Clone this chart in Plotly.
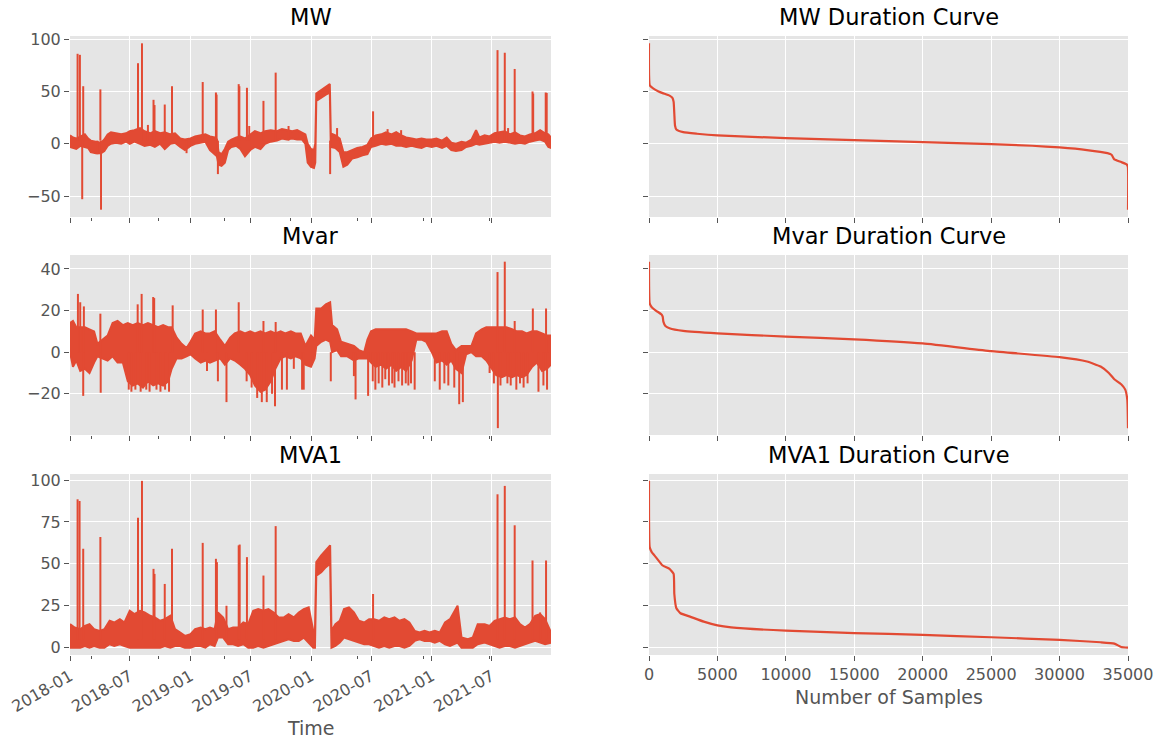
import plotly.graph_objects as go

# ---------------------------------------------------------------------------
# Time series envelopes: (timestamp, upper value, lower value)
# ---------------------------------------------------------------------------
mw_band = [
    ("2018-01-01", 8, -3), ("2018-01-10", 6, -4), ("2018-01-20", 5, -5),
    ("2018-02-01", 7, -2), ("2018-02-15", 9, -3), ("2018-02-25", 5, -4),
    ("2018-03-05", 3, -8), ("2018-03-20", 2, -9), ("2018-04-05", 1, -9),
    ("2018-04-15", 4, -7), ("2018-04-25", 9, -2), ("2018-05-05", 11, 0),
    ("2018-05-20", 10, 1), ("2018-06-05", 9, 0), ("2018-06-20", 10, 2),
    ("2018-07-01", 12, 0), ("2018-07-15", 13, 2), ("2018-08-01", 15, 0),
    ("2018-08-15", 12, -2), ("2018-09-01", 10, -1), ("2018-09-15", 12, -3),
    ("2018-10-01", 10, 0), ("2018-10-15", 11, -5), ("2018-11-01", 9, 0),
    ("2018-11-15", 10, 1), ("2018-12-01", 5, -3), ("2018-12-15", 4, -6),
    ("2019-01-01", 5, -2), ("2019-01-15", 7, 0), ("2019-02-01", 8, 1),
    ("2019-02-15", 9, 2), ("2019-03-01", 7, -6), ("2019-03-15", 6, -10),
    ("2019-03-22", 4, -12), ("2019-03-27", -8, -20), ("2019-04-05", -10, -21),
    ("2019-04-15", -5, -18), ("2019-04-25", 2, -6), ("2019-05-05", 4, -3),
    ("2019-05-20", 6, -2), ("2019-06-01", 7, -5), ("2019-06-15", 5, -12),
    ("2019-07-01", 9, -6), ("2019-07-15", 12, -3), ("2019-08-01", 10, -5),
    ("2019-08-15", 12, 0), ("2019-09-01", 13, 2), ("2019-09-20", 12, 3),
    ("2019-10-05", 14, 5), ("2019-10-20", 13, 4), ("2019-11-05", 12, 5),
    ("2019-11-20", 13, 4), ("2019-12-05", 11, 4), ("2019-12-15", 9, 0),
    ("2019-12-22", 0, -18), ("2020-01-01", -5, -22), ("2020-01-10", -6, -23),
    ("2020-01-14", 0, -18), ("2020-01-17", 48, 41), ("2020-02-01", 51, 44),
    ("2020-02-15", 54, 47), ("2020-02-27", 57, 49), ("2020-03-01", 10, -3),
    ("2020-03-15", 8, -4), ("2020-03-28", 5, -8), ("2020-04-08", -8, -22),
    ("2020-04-20", -8, -20), ("2020-05-05", -6, -14), ("2020-05-20", -4, -13),
    ("2020-06-05", -3, -11), ("2020-06-20", -1, -10), ("2020-07-01", 5, -3),
    ("2020-07-15", 8, -2), ("2020-08-01", 9, 0), ("2020-08-15", 11, -1),
    ("2020-09-01", 9, 0), ("2020-09-15", 11, -2), ("2020-10-01", 8, -2),
    ("2020-10-15", 6, -3), ("2020-11-01", 5, -2), ("2020-11-15", 4, -3),
    ("2020-12-01", 5, -4), ("2020-12-15", 4, -2), ("2021-01-01", 4, -3),
    ("2021-01-15", 5, -2), ("2021-02-01", 3, -4), ("2021-02-15", 6, -2),
    ("2021-03-01", 1, -6), ("2021-03-15", 0, -7), ("2021-04-01", 2, -6),
    ("2021-04-15", 1, -3), ("2021-05-01", 4, -2), ("2021-05-15", 13, 0),
    ("2021-05-25", 6, -1), ("2021-06-10", 8, 0), ("2021-06-25", 7, 1),
    ("2021-07-10", 10, 2), ("2021-07-25", 11, 1), ("2021-08-10", 12, 2),
    ("2021-08-25", 9, 1), ("2021-09-10", 11, 0), ("2021-09-25", 8, 1),
    ("2021-10-10", 7, 0), ("2021-10-25", 9, 2), ("2021-11-10", 10, 3),
    ("2021-11-25", 13, 4), ("2021-12-10", 10, 2), ("2021-12-20", 9, -3),
    ("2021-12-28", 6, -4),
]

mvar_band = [
    ("2018-01-01", 14, 0), ("2018-01-10", 15, -7), ("2018-01-20", 12, -4),
    ("2018-02-01", 12, -9), ("2018-02-15", 12, -8), ("2018-03-01", 11, -10),
    ("2018-03-15", 10, -5), ("2018-03-25", 4, -2), ("2018-04-10", 6, -3),
    ("2018-04-25", 8, -4), ("2018-05-10", 14, -2), ("2018-05-25", 15, -5),
    ("2018-06-10", 13, -5), ("2018-06-25", 14, -14), ("2018-07-10", 13, -16),
    ("2018-07-25", 14, -15), ("2018-08-10", 13, -17), ("2018-08-25", 14, -14),
    ("2018-09-10", 13, -16), ("2018-09-25", 12, -15), ("2018-10-10", 13, -16),
    ("2018-10-25", 12, -14), ("2018-11-05", 12, -8), ("2018-11-20", 7, -3),
    ("2018-12-05", 4, -3), ("2018-12-20", 2, -2), ("2019-01-01", 5, -1),
    ("2019-01-15", 9, -3), ("2019-02-01", 10, -5), ("2019-02-15", 9, -4),
    ("2019-03-01", 9, -5), ("2019-03-15", 10, -4), ("2019-04-01", 6, -3),
    ("2019-04-15", 3, -6), ("2019-05-01", 7, -3), ("2019-05-15", 9, -4),
    ("2019-06-01", 10, -6), ("2019-06-15", 9, -8), ("2019-07-01", 10, -11),
    ("2019-07-15", 9, -16), ("2019-08-01", 10, -19), ("2019-08-15", 9, -18),
    ("2019-09-01", 10, -14), ("2019-09-15", 9, -8), ("2019-10-01", 10, -3),
    ("2019-10-15", 9, -2), ("2019-11-01", 10, -3), ("2019-11-15", 9, -2),
    ("2019-12-01", 9, -3), ("2019-12-15", 3, -6), ("2020-01-01", 8, -7),
    ("2020-01-12", 6, -3), ("2020-01-17", 21, 3), ("2020-02-01", 21, 5),
    ("2020-02-15", 23, 6), ("2020-02-28", 24, 5), ("2020-03-05", 13, 0),
    ("2020-03-20", 11, 1), ("2020-04-01", 5, -2), ("2020-04-20", 4, -2),
    ("2020-05-10", 3, -4), ("2020-05-25", 1, -3), ("2020-06-10", 0, -3),
    ("2020-06-20", 6, -3), ("2020-07-01", 10, -5), ("2020-07-15", 11, -7),
    ("2020-08-01", 11, -6), ("2020-08-15", 11, -8), ("2020-09-01", 11, -6),
    ("2020-09-15", 11, -9), ("2020-10-01", 11, -7), ("2020-10-15", 11, -9),
    ("2020-11-01", 10, -4), ("2020-11-15", 9, 6), ("2020-12-01", 9, 6),
    ("2020-12-15", 9, 5), ("2021-01-01", 9, 0), ("2021-01-15", 9, -5),
    ("2021-02-01", 10, -4), ("2021-02-15", 10, -6), ("2021-03-01", 4, -4),
    ("2021-03-15", 1, -8), ("2021-04-01", 3, -10), ("2021-04-15", 3, -1),
    ("2021-05-01", 3, 0), ("2021-05-15", 9, -2), ("2021-06-01", 11, -2),
    ("2021-06-15", 12, -4), ("2021-07-01", 12, -8), ("2021-07-15", 12, -11),
    ("2021-08-01", 12, -12), ("2021-08-15", 12, -11), ("2021-09-01", 11, -12),
    ("2021-09-15", 10, -11), ("2021-10-01", 10, -12), ("2021-10-15", 9, -11),
    ("2021-11-01", 10, -7), ("2021-11-15", 10, -5), ("2021-12-01", 9, -9),
    ("2021-12-15", 8, -8), ("2021-12-28", 8, -6),
]

mva1_band = [
    ("2018-01-01", 14, 0), ("2018-01-15", 12, 0), ("2018-02-01", 11, 0),
    ("2018-02-15", 13, 1), ("2018-03-01", 14, 0), ("2018-03-15", 11, 1),
    ("2018-04-01", 10, 0), ("2018-04-15", 11, 0), ("2018-05-01", 16, 2),
    ("2018-05-15", 15, 1), ("2018-06-01", 17, 2), ("2018-06-15", 15, 1),
    ("2018-07-01", 22, 0), ("2018-07-15", 20, 0), ("2018-08-01", 22, 0),
    ("2018-08-15", 21, 0), ("2018-09-01", 19, 0), ("2018-09-15", 18, 0),
    ("2018-10-01", 16, 0), ("2018-10-15", 17, 1), ("2018-11-01", 19, 0),
    ("2018-11-15", 11, 1), ("2018-12-01", 9, 1), ("2018-12-15", 7, 0),
    ("2019-01-01", 8, 0), ("2019-01-15", 11, 1), ("2019-02-01", 12, 1),
    ("2019-02-15", 11, 0), ("2019-03-01", 12, 2), ("2019-03-15", 11, 1),
    ("2019-03-25", 21, 6), ("2019-04-10", 18, 6), ("2019-04-25", 11, 2),
    ("2019-05-10", 12, 2), ("2019-05-25", 12, 1), ("2019-06-10", 15, 2),
    ("2019-06-25", 14, 0), ("2019-07-10", 22, 0), ("2019-07-25", 23, 1),
    ("2019-08-10", 22, 0), ("2019-08-25", 23, 1), ("2019-09-10", 21, 2),
    ("2019-09-25", 18, 3), ("2019-10-10", 18, 4), ("2019-10-25", 20, 5),
    ("2019-11-10", 18, 4), ("2019-11-25", 21, 4), ("2019-12-10", 23, 6),
    ("2019-12-25", 24, 3), ("2020-01-08", 10, 0), ("2020-01-13", 10, 0),
    ("2020-01-17", 51, 43), ("2020-02-01", 55, 45), ("2020-02-15", 58, 48),
    ("2020-02-28", 61, 50), ("2020-03-03", 10, 0), ("2020-03-15", 14, 1),
    ("2020-03-28", 16, 3), ("2020-04-10", 23, 6), ("2020-04-25", 24, 5),
    ("2020-05-10", 21, 4), ("2020-05-25", 16, 3), ("2020-06-10", 15, 2),
    ("2020-06-25", 17, 2), ("2020-07-10", 17, 1), ("2020-07-25", 16, 0),
    ("2020-08-10", 18, 1), ("2020-08-25", 17, 0), ("2020-09-10", 18, 1),
    ("2020-09-25", 16, 1), ("2020-10-10", 17, 0), ("2020-10-25", 15, 1),
    ("2020-11-10", 10, 4), ("2020-11-25", 9, 5), ("2020-12-10", 10, 4),
    ("2020-12-25", 9, 4), ("2021-01-10", 10, 3), ("2021-01-25", 9, 4),
    ("2021-02-10", 15, 2), ("2021-02-25", 17, 1), ("2021-03-10", 22, 2),
    ("2021-03-20", 25, 3), ("2021-04-01", 6, 0), ("2021-04-20", 5, 0),
    ("2021-05-05", 6, 0), ("2021-05-20", 14, 2), ("2021-06-10", 14, 3),
    ("2021-06-25", 13, 2), ("2021-07-10", 16, 1), ("2021-07-25", 17, 0),
    ("2021-08-10", 18, 1), ("2021-08-25", 17, 1), ("2021-09-10", 18, 0),
    ("2021-09-25", 14, 1), ("2021-10-10", 12, 2), ("2021-10-25", 14, 3),
    ("2021-11-10", 19, 4), ("2021-11-25", 20, 3), ("2021-12-10", 17, 2),
    ("2021-12-28", 9, 3),
]

# Short excursions: (timestamp, extreme value)
mw_spikes = [
    ("2018-01-24", 86), ("2018-01-31", 85), ("2018-02-07", -53), ("2018-02-10", 55),
    ("2018-03-25", -10), ("2018-04-03", 52), ("2018-04-05", -63), ("2018-07-26", 77),
    ("2018-08-07", 96), ("2018-08-25", 18), ("2018-09-11", 42), ("2018-09-14", 37),
    ("2018-10-15", 37.5), ("2018-11-06", 55), ("2018-12-20", -9), ("2019-02-07", 59),
    ("2019-03-19", 49), ("2019-03-21", 47), ("2019-03-25", -29), ("2019-05-27", 57),
    ("2019-05-29", 55), ("2019-06-21", 53.5), ("2019-06-28", 17), ("2019-08-10", 41),
    ("2019-09-16", 68), ("2019-10-25", 17), ("2020-02-28", -29), ("2020-03-20", 15),
    ("2020-07-07", 31), ("2020-08-20", 14), ("2020-09-30", 13), ("2021-07-19", 89.5),
    ("2021-08-10", 87), ("2021-08-20", 15), ("2021-09-09", 71.5), ("2021-11-02", 50),
    ("2021-11-04", 48), ("2021-12-12", 49), ("2021-12-15", 48.5),
]

mvar_spikes = [
    ("2018-01-25", 28), ("2018-02-01", 24), ("2018-02-10", -21), ("2018-02-12", 22),
    ("2018-04-03", 18.5), ("2018-04-04", -19.5), ("2018-06-28", -18), ("2018-07-06", -19),
    ("2018-07-18", -18), ("2018-07-25", 23), ("2018-08-03", -19), ("2018-08-06", 28),
    ("2018-08-20", -18), ("2018-08-30", -19), ("2018-09-10", 26.5), ("2018-09-13", 26),
    ("2018-09-20", -18), ("2018-10-02", -19), ("2018-10-16", -18), ("2018-10-28", -19),
    ("2018-11-08", 22.5), ("2019-02-07", 20.5), ("2019-02-20", -9), ("2019-03-19", 20.5),
    ("2019-03-25", -14), ("2019-04-20", -24), ("2019-05-27", 24), ("2019-06-20", -14),
    ("2019-07-05", -17), ("2019-07-22", -22), ("2019-08-05", -24), ("2019-08-10", 15),
    ("2019-08-20", -24), ("2019-09-05", -20), ("2019-09-14", -26), ("2019-09-16", 14.5),
    ("2019-10-05", -18), ("2019-10-20", -18), ("2019-11-10", -8), ("2019-12-05", -18),
    ("2019-12-10", -18), ("2020-03-01", -14), ("2020-05-10", -11.5), ("2020-05-15", -22.7),
    ("2020-06-22", -21), ("2020-07-06", -14), ("2020-07-14", -18), ("2020-07-24", -15),
    ("2020-08-04", -17), ("2020-08-13", -13), ("2020-08-24", -16), ("2020-09-03", -15),
    ("2020-09-10", -17), ("2020-09-22", -14), ("2020-10-03", -16), ("2020-10-14", -15),
    ("2020-10-22", -16), ("2020-10-30", -15), ("2020-11-10", -18), ("2021-01-10", -14),
    ("2021-01-25", -18), ("2021-02-08", -15), ("2021-02-20", -16), ("2021-03-10", -17),
    ("2021-03-25", -25), ("2021-04-05", -24), ("2021-06-25", -10), ("2021-07-08", -15),
    ("2021-07-19", 38.5), ("2021-07-20", -36.5), ("2021-07-28", -16), ("2021-08-10", 43.5),
    ("2021-08-18", -15), ("2021-08-28", -16), ("2021-09-09", 15), ("2021-09-14", -18),
    ("2021-09-25", -15), ("2021-10-06", -17), ("2021-10-18", -15), ("2021-11-03", 21),
    ("2021-11-20", -19), ("2021-12-05", -16), ("2021-12-13", 21), ("2021-12-16", -18),
]

mva1_spikes = [
    ("2018-01-24", 88.5), ("2018-01-30", 87.5), ("2018-02-10", 59), ("2018-04-03", 66),
    ("2018-07-26", 77.5), ("2018-08-07", 99.5), ("2018-09-11", 47), ("2018-09-14", 44),
    ("2018-10-15", 38), ("2018-11-06", 59), ("2019-02-07", 62.5), ("2019-03-19", 53),
    ("2019-03-22", 51), ("2019-04-20", 25), ("2019-05-27", 61), ("2019-05-30", 61.5),
    ("2019-06-21", 54), ("2019-08-10", 43), ("2019-09-16", 72.5), ("2020-07-07", 32),
    ("2021-07-19", 91.5), ("2021-08-10", 96.5), ("2021-09-09", 73), ("2021-11-02", 52),
    ("2021-11-25", 21), ("2021-12-13", 52),
]

# Level the excursions start from
mw_spike_base = 3
mvar_spike_base = 0
mva1_spike_base = 5

# ---------------------------------------------------------------------------
# Duration curves: sample rank and sorted value
# ---------------------------------------------------------------------------
mw_duration_n = [0, 60, 300, 700, 1000, 1500, 1700, 1800, 1850, 1900, 2000, 2500, 3500,
                 5000, 10000, 15000, 20000, 25000, 28000, 30000, 32000, 33500, 33800,
                 34000, 34500, 34900, 34990, 35000]
mw_duration_val = [96, 55.7, 53, 50, 48.4, 46, 44, 40, 28.7, 17.5, 13.7, 11.1, 9.6,
                   8, 5.4, 3.5, 1.6, -0.3, -1.9, -3.5, -6, -9, -10.5,
                   -15, -17.5, -19.7, -22, -63]

mvar_duration_n = [0, 50, 200, 500, 900, 1000, 1050, 1200, 1500, 2500, 5000, 10000, 15000,
                   20000, 25000, 30000, 32000, 33000, 33600, 34000, 34500, 34800, 34950, 35000]
mvar_duration_val = [43.5, 23.5, 21.6, 20, 18.2, 17.1, 14.7, 12.6, 11.5, 10.2, 9, 7.5, 6.2,
                     4.2, 0.5, -2.4, -4.5, -6.9, -10, -13, -15.4, -18, -23, -36.5]

mva1_duration_n = [0, 50, 200, 500, 1000, 1500, 1800, 1850, 2000, 2300, 3000, 4000, 5000,
                   6000, 10000, 15000, 20000, 25000, 30000, 33000, 34000, 34500, 35000]
mva1_duration_val = [99.5, 60, 57, 54, 49, 47, 44, 32, 23.5, 20.5, 18.5, 15.5, 13.3,
                     12.1, 10.1, 8.7, 7.6, 6.2, 4.6, 3.2, 2.4, 0.4, 0]

titles = ["MW", "Mvar", "MVA1"]
time_start, time_end = "2018-01-01", "2021-12-28"

# ---------------------------------------------------------------------------
# Styling
# ---------------------------------------------------------------------------
W, H = 1161, 742
RED = "#E24A33"
BG = "#E5E5E5"
TICK = "#555555"
FONT = "DejaVu Sans"


def xdom(left, right):
    return [left / W, right / W]


def ydom(top, bottom):
    return [1 - bottom / H, 1 - top / H]


LEFT = xdom(70, 551)
RIGHT = xdom(649, 1128)
ROWS = [ydom(36, 217), ydom(255, 435), ydom(474, 655)]
Y_RANGES = [[-70, 103], [-39.8, 46.7], [-4.4, 103.6]]
Y_DTICK = [50, 20, 25]

fig = go.Figure()

bands = [mw_band, mvar_band, mva1_band]
spikes = [mw_spikes, mvar_spikes, mva1_spikes]
bases = [mw_spike_base, mvar_spike_base, mva1_spike_base]
dur_n = [mw_duration_n, mvar_duration_n, mva1_duration_n]
dur_v = [mw_duration_val, mvar_duration_val, mva1_duration_val]

for r in range(3):
    xl = "x" if r == 0 else f"x{2 * r + 1}"
    yl = "y" if r == 0 else f"y{2 * r + 1}"
    xr = f"x{2 * r + 2}"
    yr = f"y{2 * r + 2}"

    dates = [d for d, _, _ in bands[r]]
    upper = [u for _, u, _ in bands[r]]
    lower = [lo for _, _, lo in bands[r]]
    fig.add_trace(go.Scatter(
        x=dates + dates[::-1], y=upper + lower[::-1],
        mode="lines", fill="toself", fillcolor=RED,
        line=dict(color=RED, width=2), xaxis=xl, yaxis=yl,
        hoverinfo="skip", showlegend=False))

    sx, sy = [], []
    for d, v in spikes[r]:
        sx += [d, d, None]
        sy += [bases[r], v, None]
    fig.add_trace(go.Scatter(
        x=sx, y=sy, mode="lines", line=dict(color=RED, width=2),
        xaxis=xl, yaxis=yl, hoverinfo="skip", showlegend=False))

    fig.add_trace(go.Scatter(
        x=dur_n[r], y=dur_v[r], mode="lines",
        line=dict(color=RED, width=2.2, shape="spline", smoothing=0.4),
        xaxis=xr, yaxis=yr, hoverinfo="skip", showlegend=False))

common = dict(
    showgrid=True, gridcolor="white", gridwidth=1.4, zeroline=False, showline=False,
    ticks="outside", ticklen=5, tickwidth=1.1, tickcolor=TICK, automargin=False,
    tickfont=dict(family=FONT, size=16, color=TICK),
)

layout = dict(
    width=W, height=H, margin=dict(l=0, r=0, t=0, b=0, pad=0, autoexpand=False),
    paper_bgcolor="white", plot_bgcolor=BG, showlegend=False,
    font=dict(family=FONT, color=TICK),
)

for r in range(3):
    il = 2 * r + 1
    ir = 2 * r + 2
    kxl = "xaxis" if il == 1 else f"xaxis{il}"
    kyl = "yaxis" if il == 1 else f"yaxis{il}"
    ayl = "y" if il == 1 else f"y{il}"
    axl = "x" if il == 1 else f"x{il}"
    bottom = r == 2

    layout[kxl] = dict(
        common, type="date", domain=LEFT, anchor=ayl,
        range=[time_start, time_end], tickmode="linear", tick0="2018-01-01",
        dtick="M6", tickformat="%Y-%m", tickangle=-30,
        showticklabels=bottom,
        minor=dict(ticks="outside", ticklen=3, tickcolor=TICK, tickwidth=1,
                   tick0="2018-03-08", dtick=201 * 86400000, showgrid=False),
    )
    if not bottom:
        layout[kxl]["matches"] = "x5"
    layout[kyl] = dict(common, domain=ROWS[r], anchor=axl, range=Y_RANGES[r],
                       tickmode="linear", tick0=0, dtick=Y_DTICK[r])

    layout[f"xaxis{ir}"] = dict(
        common, domain=RIGHT, anchor=f"y{ir}", range=[0, 35000],
        tickmode="linear", tick0=0, dtick=5000, tickformat="d",
        showticklabels=bottom)
    if not bottom:
        layout[f"xaxis{ir}"]["matches"] = "x6"
    layout[f"yaxis{ir}"] = dict(
        common, domain=ROWS[r], anchor=f"x{ir}", range=Y_RANGES[r],
        tickmode="linear", tick0=0, dtick=Y_DTICK[r], showticklabels=False,
        matches=ayl)

annotations = []
title_y = [17, 236, 455]
for r in range(3):
    for dom, text in ((LEFT, titles[r]), (RIGHT, titles[r] + " Duration Curve")):
        annotations.append(dict(
            text=text, xref="paper", yref="paper",
            x=(dom[0] + dom[1]) / 2, y=1 - title_y[r] / H,
            xanchor="center", yanchor="middle", showarrow=False,
            font=dict(family=FONT, size=22.5, color="black")))
annotations.append(dict(
    text="Time", xref="paper", yref="paper", x=(LEFT[0] + LEFT[1]) / 2,
    y=1 - 728 / H, xanchor="center", yanchor="middle", showarrow=False,
    font=dict(family=FONT, size=19, color=TICK)))
annotations.append(dict(
    text="Number of Samples", xref="paper", yref="paper", x=(RIGHT[0] + RIGHT[1]) / 2,
    y=1 - 697 / H, xanchor="center", yanchor="middle", showarrow=False,
    font=dict(family=FONT, size=19, color=TICK)))
layout["annotations"] = annotations

fig.update_layout(layout)
fig.write_html("out.html")
